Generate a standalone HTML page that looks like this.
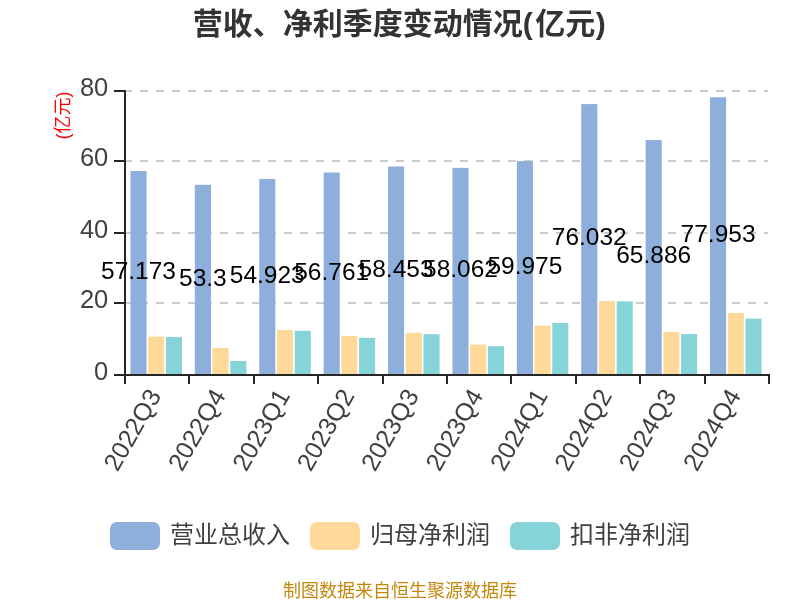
<!DOCTYPE html>
<html lang="zh-CN"><head><meta charset="utf-8"><title>营收、净利季度变动情况(亿元)</title>
<style>html,body{margin:0;padding:0;background:#fff;}body{width:800px;height:600px;overflow:hidden;}svg{display:block;}text{font-family:"Liberation Sans", "Noto Sans CJK SC", sans-serif;}</style>
</head><body>
<svg width="800" height="600" viewBox="0 0 800 600">
<rect width="800" height="600" fill="#ffffff"/>
<text x="192.8" y="34" font-size="30" font-weight="bold" fill="#333333">营收、净利季度变动情况(<tspan dx="2.5">亿元</tspan><tspan dx="0.5">)</tspan></text>
<line x1="124" y1="91" x2="768" y2="91" stroke="#cccccc" stroke-width="2" stroke-dasharray="8 8"/>
<line x1="124" y1="161" x2="768" y2="161" stroke="#cccccc" stroke-width="2" stroke-dasharray="8 8"/>
<line x1="124" y1="233" x2="768" y2="233" stroke="#cccccc" stroke-width="2" stroke-dasharray="8 8"/>
<line x1="124" y1="303" x2="768" y2="303" stroke="#cccccc" stroke-width="2" stroke-dasharray="8 8"/>
<rect x="130.44" y="171.04" width="16.1" height="202.96" fill="#8eaedc"/>
<rect x="148.15" y="336.60" width="16.1" height="37.40" fill="#ffd999"/>
<rect x="165.86" y="337.00" width="16.1" height="37.00" fill="#87d4d8"/>
<rect x="194.84" y="184.79" width="16.1" height="189.21" fill="#8eaedc"/>
<rect x="212.55" y="348.00" width="16.1" height="26.00" fill="#ffd999"/>
<rect x="230.26" y="361.00" width="16.1" height="13.00" fill="#87d4d8"/>
<rect x="259.24" y="179.02" width="16.1" height="194.98" fill="#8eaedc"/>
<rect x="276.95" y="330.00" width="16.1" height="44.00" fill="#ffd999"/>
<rect x="294.66" y="330.80" width="16.1" height="43.20" fill="#87d4d8"/>
<rect x="323.64" y="172.50" width="16.1" height="201.50" fill="#8eaedc"/>
<rect x="341.35" y="336.00" width="16.1" height="38.00" fill="#ffd999"/>
<rect x="359.06" y="337.80" width="16.1" height="36.20" fill="#87d4d8"/>
<rect x="388.04" y="166.49" width="16.1" height="207.51" fill="#8eaedc"/>
<rect x="405.75" y="332.80" width="16.1" height="41.20" fill="#ffd999"/>
<rect x="423.46" y="334.20" width="16.1" height="39.80" fill="#87d4d8"/>
<rect x="452.44" y="167.88" width="16.1" height="206.12" fill="#8eaedc"/>
<rect x="470.15" y="344.60" width="16.1" height="29.40" fill="#ffd999"/>
<rect x="487.86" y="346.20" width="16.1" height="27.80" fill="#87d4d8"/>
<rect x="516.84" y="161.09" width="16.1" height="212.91" fill="#8eaedc"/>
<rect x="534.55" y="325.60" width="16.1" height="48.40" fill="#ffd999"/>
<rect x="552.26" y="323.00" width="16.1" height="51.00" fill="#87d4d8"/>
<rect x="581.24" y="104.09" width="16.1" height="269.91" fill="#8eaedc"/>
<rect x="598.95" y="301.00" width="16.1" height="73.00" fill="#ffd999"/>
<rect x="616.66" y="301.40" width="16.1" height="72.60" fill="#87d4d8"/>
<rect x="645.64" y="140.10" width="16.1" height="233.90" fill="#8eaedc"/>
<rect x="663.35" y="332.00" width="16.1" height="42.00" fill="#ffd999"/>
<rect x="681.06" y="334.00" width="16.1" height="40.00" fill="#87d4d8"/>
<rect x="710.04" y="97.27" width="16.1" height="276.73" fill="#8eaedc"/>
<rect x="727.75" y="313.00" width="16.1" height="61.00" fill="#ffd999"/>
<rect x="745.46" y="318.60" width="16.1" height="55.40" fill="#87d4d8"/>
<rect x="124" y="90" width="2" height="286" fill="#262626"/>
<rect x="124" y="374" width="646" height="2" fill="#262626"/>
<rect x="114" y="90" width="10" height="2" fill="#262626"/>
<rect x="114" y="160" width="10" height="2" fill="#262626"/>
<rect x="114" y="232" width="10" height="2" fill="#262626"/>
<rect x="114" y="302" width="10" height="2" fill="#262626"/>
<rect x="114" y="374" width="10" height="2" fill="#262626"/>
<rect x="124" y="376" width="2" height="8" fill="#262626"/>
<rect x="188" y="376" width="2" height="8" fill="#262626"/>
<rect x="253" y="376" width="2" height="8" fill="#262626"/>
<rect x="317" y="376" width="2" height="8" fill="#262626"/>
<rect x="382" y="376" width="2" height="8" fill="#262626"/>
<rect x="446" y="376" width="2" height="8" fill="#262626"/>
<rect x="510" y="376" width="2" height="8" fill="#262626"/>
<rect x="575" y="376" width="2" height="8" fill="#262626"/>
<rect x="639" y="376" width="2" height="8" fill="#262626"/>
<rect x="704" y="376" width="2" height="8" fill="#262626"/>
<rect x="768" y="376" width="2" height="8" fill="#262626"/>
<text x="108.3" y="96.2" text-anchor="end" font-size="25.5" fill="#404040">80</text>
<text x="108.3" y="166.2" text-anchor="end" font-size="25.5" fill="#404040">60</text>
<text x="108.3" y="238.2" text-anchor="end" font-size="25.5" fill="#404040">40</text>
<text x="108.3" y="308.2" text-anchor="end" font-size="25.5" fill="#404040">20</text>
<text x="108.3" y="380.2" text-anchor="end" font-size="25.5" fill="#404040">0</text>
<text transform="translate(62.5,115.6) rotate(-90)" text-anchor="middle" dominant-baseline="central" font-size="18" fill="#ff0000">(亿元)</text>
<text transform="translate(154.20,391) rotate(-60)" text-anchor="end" dominant-baseline="central" font-size="25" fill="#404040">2022Q3</text>
<text transform="translate(218.60,391) rotate(-60)" text-anchor="end" dominant-baseline="central" font-size="25" fill="#404040">2022Q4</text>
<text transform="translate(283.00,391) rotate(-60)" text-anchor="end" dominant-baseline="central" font-size="25" fill="#404040">2023Q1</text>
<text transform="translate(347.40,391) rotate(-60)" text-anchor="end" dominant-baseline="central" font-size="25" fill="#404040">2023Q2</text>
<text transform="translate(411.80,391) rotate(-60)" text-anchor="end" dominant-baseline="central" font-size="25" fill="#404040">2023Q3</text>
<text transform="translate(476.20,391) rotate(-60)" text-anchor="end" dominant-baseline="central" font-size="25" fill="#404040">2023Q4</text>
<text transform="translate(540.60,391) rotate(-60)" text-anchor="end" dominant-baseline="central" font-size="25" fill="#404040">2024Q1</text>
<text transform="translate(605.00,391) rotate(-60)" text-anchor="end" dominant-baseline="central" font-size="25" fill="#404040">2024Q2</text>
<text transform="translate(669.40,391) rotate(-60)" text-anchor="end" dominant-baseline="central" font-size="25" fill="#404040">2024Q3</text>
<text transform="translate(733.80,391) rotate(-60)" text-anchor="end" dominant-baseline="central" font-size="25" fill="#404040">2024Q4</text>
<text x="138.49" y="278.82" text-anchor="middle" font-size="24.5" fill="#000000">57.173</text>
<text x="202.89" y="285.69" text-anchor="middle" font-size="24.5" fill="#000000">53.3</text>
<text x="267.29" y="282.81" text-anchor="middle" font-size="24.5" fill="#000000">54.923</text>
<text x="331.69" y="279.55" text-anchor="middle" font-size="24.5" fill="#000000">56.761</text>
<text x="396.09" y="276.55" text-anchor="middle" font-size="24.5" fill="#000000">58.453</text>
<text x="460.49" y="277.24" text-anchor="middle" font-size="24.5" fill="#000000">58.062</text>
<text x="524.89" y="273.84" text-anchor="middle" font-size="24.5" fill="#000000">59.975</text>
<text x="589.29" y="245.34" text-anchor="middle" font-size="24.5" fill="#000000">76.032</text>
<text x="653.69" y="263.35" text-anchor="middle" font-size="24.5" fill="#000000">65.886</text>
<text x="718.09" y="241.93" text-anchor="middle" font-size="24.5" fill="#000000">77.953</text>
<rect x="110" y="522" width="50" height="28" rx="7" ry="7" fill="#8eaedc"/>
<text x="170" y="534" dominant-baseline="central" font-size="24" fill="#404040">营业总收入</text>
<rect x="310" y="522" width="50" height="28" rx="7" ry="7" fill="#ffd999"/>
<text x="370" y="534" dominant-baseline="central" font-size="24" fill="#404040">归母净利润</text>
<rect x="510" y="522" width="50" height="28" rx="7" ry="7" fill="#87d4d8"/>
<text x="570" y="534" dominant-baseline="central" font-size="24" fill="#404040">扣非净利润</text>
<text x="400" y="591" text-anchor="middle" dominant-baseline="central" font-size="18" fill="#c4880e">制图数据来自恒生聚源数据库</text>
</svg></body></html>
